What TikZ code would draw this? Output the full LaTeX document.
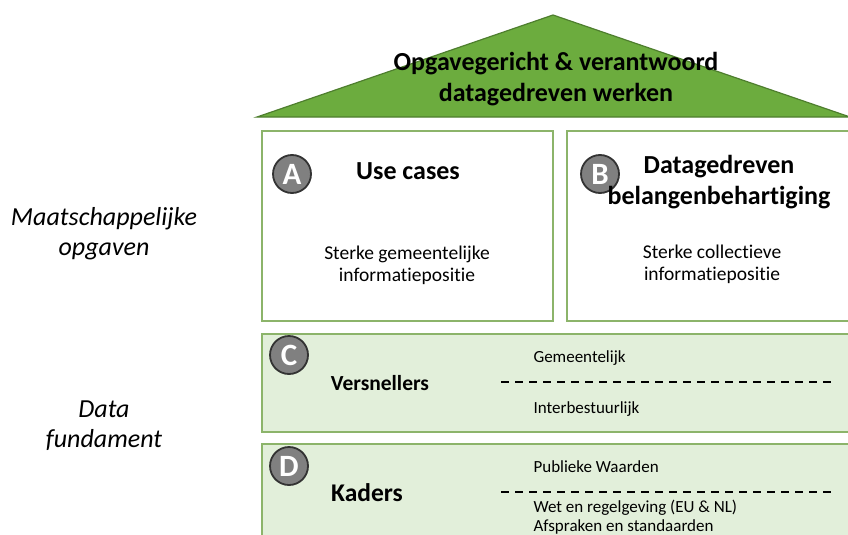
\documentclass[tikz,border=0pt]{standalone}
\usepackage{fontspec}
\setmainfont[Ligatures=NoCommon]{Carlito}
\begin{document}
\begin{tikzpicture}[x=1pt,y=-1pt,
  pillar/.style={draw=boxgreen,line width=1.6pt,fill=white},
  band/.style={draw=boxgreen,line width=1.6pt,fill=bandfill},
  badge/.style={circle,draw=black!80,line width=1.8pt,fill=black!50,text=white,minimum size=38pt,inner sep=0pt,font=\fontsize{31}{31}\selectfont\bfseries},
  head/.style={font=\fontsize{26}{31}\selectfont\bfseries,align=center},
  sub/.style={font=\fontsize{19.5}{22}\selectfont,align=center},
  small/.style={font=\fontsize{17}{19}\selectfont,anchor=west,align=left},
  side/.style={font=\fontsize{26}{30}\selectfont\itshape,align=center},
  sep/.style={line width=1.6pt,dash pattern=on 8pt off 6pt}]
\definecolor{boxgreen}{HTML}{8CB46A}
\definecolor{bandfill}{HTML}{E2EFDA}
\definecolor{roofgreen}{HTML}{6CAC3E}
\definecolor{roofline}{HTML}{4E7E2E}
\useasboundingbox (0,0) rectangle (848,535);
% roof
\coordinate (rl) at (257,117);
\coordinate (rt) at (553,15);
\coordinate (rr) at (850,117);
\filldraw[fill=roofgreen,draw=roofline,line width=1.2pt] (rl) -- (rt) -- (rr) -- cycle;
\node[head] (title) at (556,79) {Opgavegericht \& verantwoord\\datagedreven werken};
% pillars
\draw[pillar] (262,131) rectangle (553,321);
\draw[pillar] (567,131) rectangle (852,321);
\node[badge] (ba) at (292,174) {A};
\node[head] (ha) at (408,171) {Use cases};
\node[sub] (sa) at (407,265) {Sterke gemeentelijke\\informatiepositie};
\node[badge] (bb) at (600,174) {B};
\node[head] (hb) at (719,182) {Datagedreven\\belangenbehartiging};
\node[sub] (sb) at (712,264) {Sterke collectieve\\informatiepositie};
% bands
\draw[band] (262,334) rectangle (852,432);
\draw[band] (262,444) rectangle (852,545);
\node[badge] (bc) at (289,355) {C};
\node[font=\fontsize{21.5}{24}\selectfont\bfseries] (vc) at (380,383) {Versnellers};
\node[small] (c1) at (530,358) {Gemeentelijk};
\node[small] (c2) at (530,409) {Interbestuurlijk};
\coordinate (cl) at (501,382);
\coordinate (cr) at (832,382);
\draw[sep] (cl) -- (cr);
\node[badge] (bd) at (289,466) {D};
\node[font=\fontsize{25.5}{28}\selectfont\bfseries] (kd) at (367,493) {Kaders};
\node[small] (d1) at (530,467) {Publieke Waarden};
\node[small] (d2) at (530,517) {Wet en regelgeving (EU \& NL)\\Afspraken en standaarden};
\coordinate (dl) at (501,492);
\coordinate (dr) at (832,492);
\draw[sep] (dl) -- (dr);
% side labels
\node[side] (m) at (104,234) {Maatschappelijke\\opgaven};
\node[side] (f) at (104,426) {Data\\fundament};
\end{tikzpicture}
\end{document}
